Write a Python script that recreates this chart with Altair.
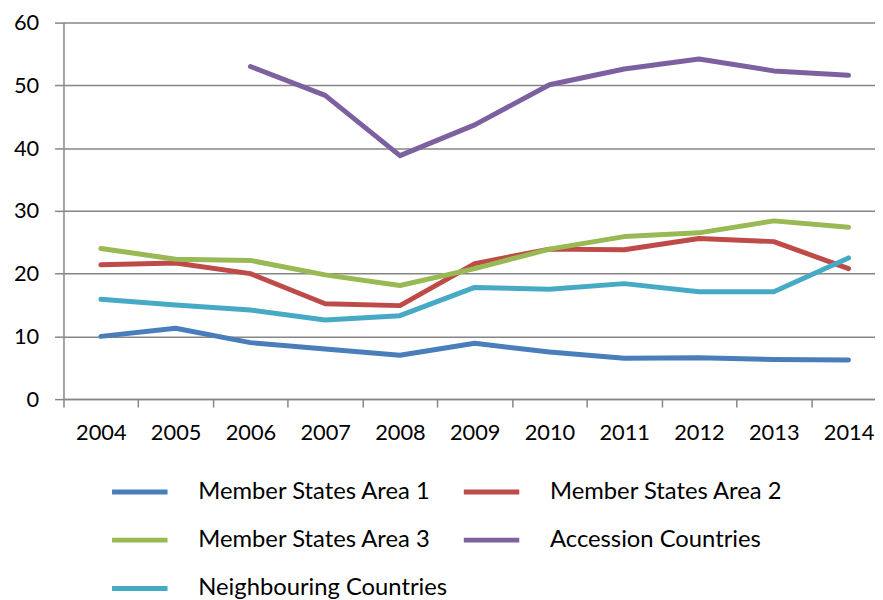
import altair as alt
import pandas as pd

years = [2004, 2005, 2006, 2007, 2008, 2009, 2010, 2011, 2012, 2013, 2014]
series_names = ["Member States Area 1", "Member States Area 2", "Member States Area 3",
                "Accession Countries", "Neighbouring Countries"]
area1 = [10.0, 11.3, 9.0, 8.0, 7.0, 8.9, 7.5, 6.5, 6.6, 6.3, 6.25]
area2 = [21.4, 21.7, 20.0, 15.2, 14.9, 21.6, 23.9, 23.8, 25.6, 25.1, 20.8]
area3 = [24.0, 22.3, 22.1, 19.8, 18.1, 20.8, 23.9, 25.9, 26.5, 28.4, 27.4]
accession = [None, None, 53.0, 48.4, 38.8, 43.7, 50.1, 52.6, 54.2, 52.3, 51.6]
neighbouring = [15.9, 15.0, 14.2, 12.6, 13.3, 17.8, 17.5, 18.4, 17.1, 17.1, 22.5]
colors = ["#4A7EBB", "#BE4B48", "#98B954", "#7D60A0", "#46AAC5"]
y_ticks = [0, 10, 20, 30, 40, 50, 60]
x_ticks = [2003.5, 2004.5, 2005.5, 2006.5, 2007.5, 2008.5, 2009.5, 2010.5, 2011.5, 2012.5, 2013.5]

rows = []
for name, vals in zip(series_names, [area1, area2, area3, accession, neighbouring]):
    for yr, v in zip(years, vals):
        if v is not None:
            rows.append({"year": yr, "value": v, "series": name})
df = pd.DataFrame(rows)

plot_w = 819
x_max = 2003.5 + 11 * plot_w / 830.0
band = plot_w / (x_max - 2003.5)

grid_col = "#868686"

chart = alt.Chart(df).mark_line(strokeWidth=5, strokeCap="round", strokeJoin="round").encode(
    x=alt.X("year:Q",
            scale=alt.Scale(domain=[2003.5, x_max], nice=False, zero=False),
            axis=alt.Axis(values=x_ticks, title=None, grid=False,
                          labelExpr="toString(datum.value + 0.5)",
                          labelOffset=band / 2, labelFlush=False, labelOverlap=False,
                          labelFont="Lato", labelFontSize=22, labelColor="black",
                          labelPadding=16, tickSize=8, tickColor=grid_col, tickWidth=1.5,
                          domainColor=grid_col, domainWidth=1.5)),
    y=alt.Y("value:Q",
            scale=alt.Scale(domain=[0, 60], nice=False),
            axis=alt.Axis(values=y_ticks, title=None, grid=True, gridColor=grid_col,
                          gridWidth=1.5, gridOpacity=1,
                          labelFont="Lato", labelFontSize=22, labelColor="black",
                          labelPadding=16, tickSize=9, tickColor=grid_col, tickWidth=1.5,
                          domainColor=grid_col, domainWidth=1.5)),
    color=alt.Color("series:N",
                    scale=alt.Scale(domain=series_names, range=colors),
                    sort=series_names,
                    legend=alt.Legend(orient="none", legendX=32.5, legendY=457,
                                      direction="horizontal",
                                      columns=2, title=None, padding=0,
                                      symbolType="M0,0H4", symbolSize=784,
                                      symbolStrokeWidth=5,
                                      labelFont="Lato", labelFontSize=24, labelColor="black",
                                      labelOffset=70.5, labelLimit=0,
                                      columnPadding=0, rowPadding=19.8)),
).properties(
    width=plot_w, height=380,
    autosize=alt.AutoSizeParams(type="none"),
    padding={"left": 56, "top": 12, "right": 0, "bottom": 200},
).configure_view(stroke=None)

chart.save("out.html", embed_options={"renderer": "svg", "actions": False})
